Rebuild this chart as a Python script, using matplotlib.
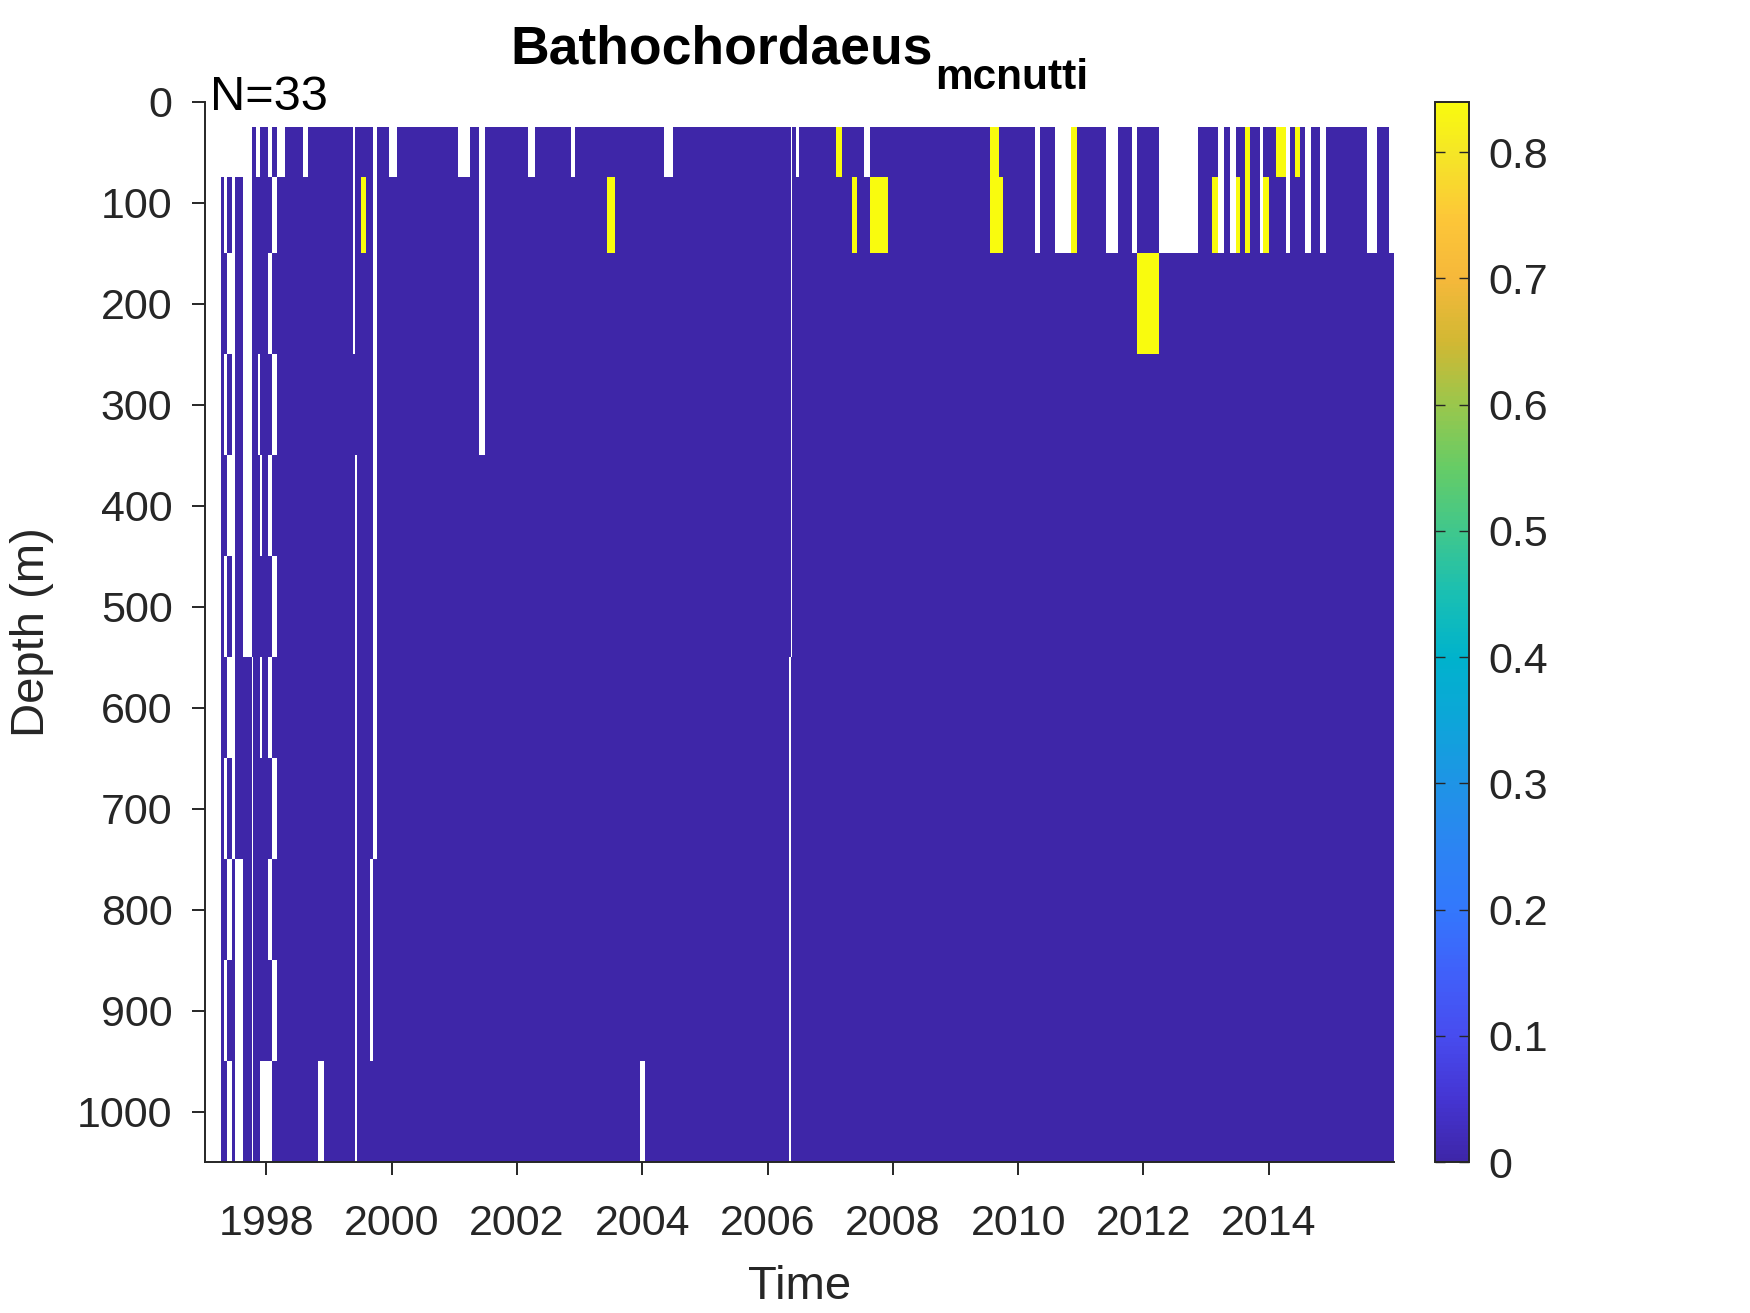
import numpy as np
import matplotlib
matplotlib.use("Agg")
import matplotlib.pyplot as plt
from matplotlib.colors import LinearSegmentedColormap

plt.rcParams['font.family'] = ['Liberation Sans', 'DejaVu Sans']

# depth bin edges (m) and time span (decimal years)
depth_edges = [25, 75, 150, 250, 350, 450, 550, 650, 750, 850, 950, 1050]
t_last = 2016.0
presence = 0.84          # value of the yellow cells
n_casts = 33

# first casts: one pattern per column, top -> bottom ('.' = no sample, '0' = zero)
early_edges = [1997.274, 1997.327, 1997.365, 1997.445, 1997.497, 1997.625, 1997.773,
               1997.789, 1997.832, 1997.869, 1997.896, 1997.928, 1998.019, 1998.088, 1998.168]
early_cols = [".0000000000", "..0.0.0.0.0", ".0.0.0.0.0.", "........000", ".0000000...",
              "......00000", "000000.....", "00000000000", ".0000000000", ".00.0000000",
              "0000.0.000.", "0000000000.", ".0.0.0.0.0.", "0.0.0.0.0.0"]

# later record: zero everywhere except these (t0, t1, first row, last row)
gaps = [
    (1998.168, 1998.300, 0, 0), (1998.587, 1998.662, 0, 0), (1998.822, 1998.918, 10, 10),
    (1999.385, 1999.410, 0, 2), (1999.412, 1999.440, 4, 10), (1999.652, 1999.700, 8, 9),
    (1999.700, 1999.764, 0, 7), (1999.955, 2000.083, 0, 0), (2001.056, 2001.248, 0, 0),
    (2001.391, 2001.487, 0, 3), (2002.169, 2002.285, 0, 0), (2002.855, 2002.928, 0, 0),
    (2003.970, 2004.050, 10, 10), (2004.344, 2004.483, 0, 0), (2006.371, 2006.398, 0, 5),
    (2006.350, 2006.376, 6, 10), (2006.461, 2006.498, 0, 0), (2007.535, 2007.631, 0, 0),
    (2010.265, 2010.345, 0, 1), (2010.583, 2010.850, 0, 1), (2011.409, 2011.594, 0, 1),
    (2011.824, 2011.892, 0, 1), (2012.244, 2012.871, 0, 1), (2013.190, 2013.281, 0, 1),
    (2013.377, 2013.473, 0, 1), (2013.856, 2013.908, 0, 1), (2014.270, 2014.345, 0, 1),
    (2014.573, 2014.680, 0, 1), (2014.813, 2014.908, 0, 1), (2015.574, 2015.723, 0, 1),
    (2015.914, 2016.000, 0, 1),
]
hits = [
    (1999.508, 1999.583, 1, 1), (2003.434, 2003.562, 1, 1), (2007.100, 2007.185, 0, 0),
    (2007.355, 2007.429, 1, 1), (2007.631, 2007.918, 1, 1), (2009.557, 2009.690, 0, 0),
    (2009.557, 2009.759, 1, 1), (2010.850, 2010.940, 0, 1), (2011.892, 2012.244, 2, 2),
    (2013.094, 2013.190, 1, 1), (2013.473, 2013.537, 1, 1), (2013.621, 2013.696, 0, 1),
    (2013.908, 2014.004, 1, 1), (2014.122, 2014.270, 0, 0), (2014.414, 2014.494, 0, 0),
]

year_ticks = list(range(1998, 2015, 2))
depth_ticks = list(range(0, 1001, 100))
cbar_ticks = [0, 0.1, 0.2, 0.3, 0.4, 0.5, 0.6, 0.7, 0.8]
cbar_labels = ['0', '0.1', '0.2', '0.3', '0.4', '0.5', '0.6', '0.7', '0.8']

# --- build the grid ---
bounds = set(early_edges) | {t_last}
for t0, t1, _, _ in gaps + hits:
    bounds.update((t0, t1))
x_edges = np.array(sorted(bounds))
mid = (x_edges[:-1] + x_edges[1:]) / 2
Z = np.zeros((len(depth_edges) - 1, len(mid)))
for j, m in enumerate(mid):
    if m < early_edges[-1]:
        k = np.searchsorted(early_edges, m) - 1
        for i, ch in enumerate(early_cols[k]):
            Z[i, j] = np.nan if ch == '.' else 0.0
for t0, t1, r0, r1 in gaps:
    Z[r0:r1 + 1, (mid > t0) & (mid < t1)] = np.nan
for t0, t1, r0, r1 in hits:
    Z[r0:r1 + 1, (mid > t0) & (mid < t1)] = presence
Z = np.ma.masked_invalid(Z)

# parula-like colormap
parula = LinearSegmentedColormap.from_list('parula', [
    (0.000, (0.2422, 0.1504, 0.6603)),
    (0.060, (0.2700, 0.2100, 0.8300)),
    (0.119, (0.2800, 0.3000, 0.9400)),
    (0.179, (0.2500, 0.3800, 0.9800)),
    (0.238, (0.2000, 0.4700, 0.9900)),
    (0.298, (0.1700, 0.5200, 0.9500)),
    (0.357, (0.1200, 0.5800, 0.9000)),
    (0.417, (0.0500, 0.6500, 0.8500)),
    (0.476, (0.0000, 0.7000, 0.8000)),
    (0.536, (0.1000, 0.7500, 0.7000)),
    (0.595, (0.2500, 0.7800, 0.5500)),
    (0.655, (0.4000, 0.8000, 0.4000)),
    (0.714, (0.6000, 0.7800, 0.3000)),
    (0.774, (0.8200, 0.7200, 0.2000)),
    (0.833, (0.9600, 0.7200, 0.2300)),
    (0.893, (0.9900, 0.7800, 0.2200)),
    (0.952, (0.9600, 0.9000, 0.1500)),
    (1.000, (0.9763, 0.9831, 0.0538)),
])
parula.set_bad((1, 1, 1, 0))

ink = '#262626'
fig = plt.figure(figsize=(17.5, 13.13), dpi=100)
ax = fig.add_axes([0.11714, 0.115, 0.67943, 0.80754])
mesh = ax.pcolormesh(x_edges, depth_edges, Z, cmap=parula, vmin=0, vmax=presence,
                     shading='flat', edgecolors='none', antialiased=False)

ax.set_xlim(1997.02, 2016.0)
ax.set_ylim(1050, 0)
ax.set_xticks(year_ticks)
ax.set_yticks(depth_ticks)
for side in ['top', 'right']:
    ax.spines[side].set_visible(False)
for side in ['left', 'bottom']:
    ax.spines[side].set_linewidth(1.4)
    ax.spines[side].set_color(ink)
ax.tick_params(axis='both', direction='out', length=9.4, width=1.4, colors=ink, labelsize=31)
ax.tick_params(axis='x', pad=21)
ax.tick_params(axis='y', pad=14)

ax.set_xlabel('Time', fontsize=34, color=ink)
ax.xaxis.set_label_coords(0.5, -0.097)
ax.set_ylabel('Depth (m)', fontsize=34, color=ink)
ax.yaxis.set_label_coords(-0.127, 0.5)

# title with subscript
fig.text(933 / 1750, 1 - 63.3 / 1313, 'Bathochordaeus', ha='right', va='baseline',
         fontsize=38.5, fontweight='bold', color='black')
fig.text(935 / 1750, 1 - 89.3 / 1313, 'mcnutti', ha='left', va='baseline',
         fontsize=30.5, fontweight='bold', color='black')
fig.text(210 / 1750, 1 - 110 / 1313, f'N={n_casts}', ha='left', va='baseline',
         fontsize=35, color='black')

# colorbar
cax = fig.add_axes([1435 / 1750, 0.115, 34 / 1750, 0.80754])
cb = fig.colorbar(mesh, cax=cax, ticks=cbar_ticks)
cb.ax.set_yticklabels(cbar_labels)
cb.outline.set_linewidth(1.4)
cb.outline.set_edgecolor(ink)
cax.tick_params(direction='in', left=True, right=True, length=7, width=1.0,
                colors=ink, labelsize=31, pad=14)

fig.savefig('out.png', dpi=100)
